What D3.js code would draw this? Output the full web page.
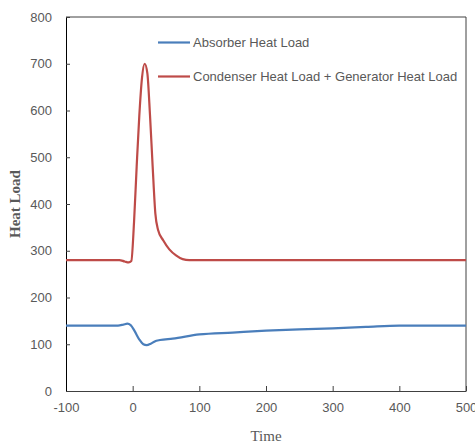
<!DOCTYPE html>
<html>
<head>
<meta charset="utf-8">
<script src="https://cdn.jsdelivr.net/npm/d3@7"></script>
<style>
  body { margin: 0; background: #fff; }
</style>
</head>
<body>
<div id="chart"></div>
<script>
// data
var timeTicks = [-100, 0, 100, 200, 300, 400, 500];
var loadTicks = [0, 100, 200, 300, 400, 500, 600, 700, 800];

var absorberTime = [-100, -22, -14, -8, -3, 3, 10, 16, 21, 27, 33, 41, 60, 100, 150, 200, 250, 300, 350, 400, 500];
var absorberLoad = [140, 140, 142, 144, 141, 128, 110, 100, 98, 101, 106, 109, 112, 121, 125, 129, 132, 134, 137, 140, 140];

var condGenTime = [-100, -20, -12, -6, -2, 2, 6, 10, 14, 18, 22, 26, 30, 34, 38, 46, 55, 65, 75, 85, 100, 500];
var condGenLoad = [280, 280, 277, 275, 278, 360, 480, 590, 670, 700, 680, 590, 480, 380, 345, 322, 303, 290, 282, 280, 280, 280];

var seriesNames = ["Absorber Heat Load", "Condenser Heat Load + Generator Heat Load"];
var seriesColors = ["#4a7ebb", "#be4b48"];

// set the dimensions and margins of the graph
var margin = { top: 17, right: 9, bottom: 53, left: 66 },
  width = 475 - margin.left - margin.right,
  height = 444 - margin.top - margin.bottom;

var svg = d3.select("#chart")
  .append("svg")
  .attr("width", 475)
  .attr("height", 444)
  .append("g")
  .attr("transform", "translate(" + margin.left + "," + margin.top + ")");

var x = d3.scaleLinear().domain([-100, 500]).range([0, width]);
var y = d3.scaleLinear().domain([0, 800]).range([height, 0]);

var tickFont = "'Liberation Sans', Arial, sans-serif";
var plain = function (d) { return String(d); }; // keep the plain hyphen for negatives

// x axis
var xAxis = svg.append("g")
  .attr("transform", "translate(0," + height + ")")
  .call(d3.axisBottom(x).tickValues(timeTicks).tickFormat(plain).tickSizeInner(-5).tickSizeOuter(0).tickPadding(12));
xAxis.select(".domain").attr("stroke", "#404040");
xAxis.selectAll(".tick line").attr("stroke", "#404040");
xAxis.selectAll("text")
  .attr("fill", "#595959")
  .style("font-family", tickFont)
  .style("font-size", "13px");

// y axis
var yAxis = svg.append("g")
  .call(d3.axisLeft(y).tickValues(loadTicks).tickFormat(plain).tickSizeInner(-4).tickSizeOuter(0).tickPadding(14));
yAxis.select(".domain").attr("stroke", "#000");
yAxis.selectAll(".tick line").attr("stroke", "#404040");
yAxis.selectAll("text")
  .attr("fill", "#595959")
  .style("font-family", tickFont)
  .style("font-size", "13px");

// frame on top and right
svg.append("path")
  .attr("d", "M0,0H" + width + "V" + height)
  .attr("fill", "none")
  .attr("stroke", "#404040")
  .attr("stroke-width", 1);

// lines
var line = d3.line()
  .x(function (d) { return x(d[0]); })
  .y(function (d) { return y(d[1]); })
  .curve(d3.curveMonotoneX);

var series = [
  d3.zip(absorberTime, absorberLoad),
  d3.zip(condGenTime, condGenLoad)
];

svg.selectAll("path.series")
  .data(series)
  .enter()
  .append("path")
  .attr("class", "series")
  .attr("d", line)
  .attr("fill", "none")
  .attr("stroke", function (d, i) { return seriesColors[i]; })
  .attr("stroke-width", 2.2)
  .attr("stroke-linejoin", "round");

// legend
var legend = svg.selectAll("g.legend")
  .data(seriesNames)
  .enter()
  .append("g")
  .attr("class", "legend")
  .attr("transform", function (d, i) { return "translate(" + (158 - margin.left) + "," + (42.5 + i * 34 - margin.top) + ")"; });

legend.append("line")
  .attr("x1", 0).attr("x2", 32)
  .attr("stroke", function (d, i) { return seriesColors[i]; })
  .attr("stroke-width", 2.2);

legend.append("text")
  .attr("x", 35)
  .attr("dy", "0.35em")
  .attr("fill", "#595959")
  .style("font-family", tickFont)
  .style("font-size", "13px")
  .text(function (d) { return d; });

// axis titles
svg.append("text")
  .attr("x", x(200))
  .attr("y", height + 50)
  .attr("text-anchor", "middle")
  .attr("fill", "#595959")
  .style("font-family", "'Liberation Serif', 'Times New Roman', serif")
  .style("font-size", "15px")
  .text("Time");

svg.append("text")
  .attr("transform", "translate(" + (20 - margin.left) + "," + (height / 2) + ") rotate(-90)")
  .attr("text-anchor", "middle")
  .attr("fill", "#595959")
  .style("font-family", "'Liberation Serif', 'Times New Roman', serif")
  .style("font-size", "15px")
  .style("font-weight", "bold")
  .text("Heat Load");
</script>
</body>
</html>
